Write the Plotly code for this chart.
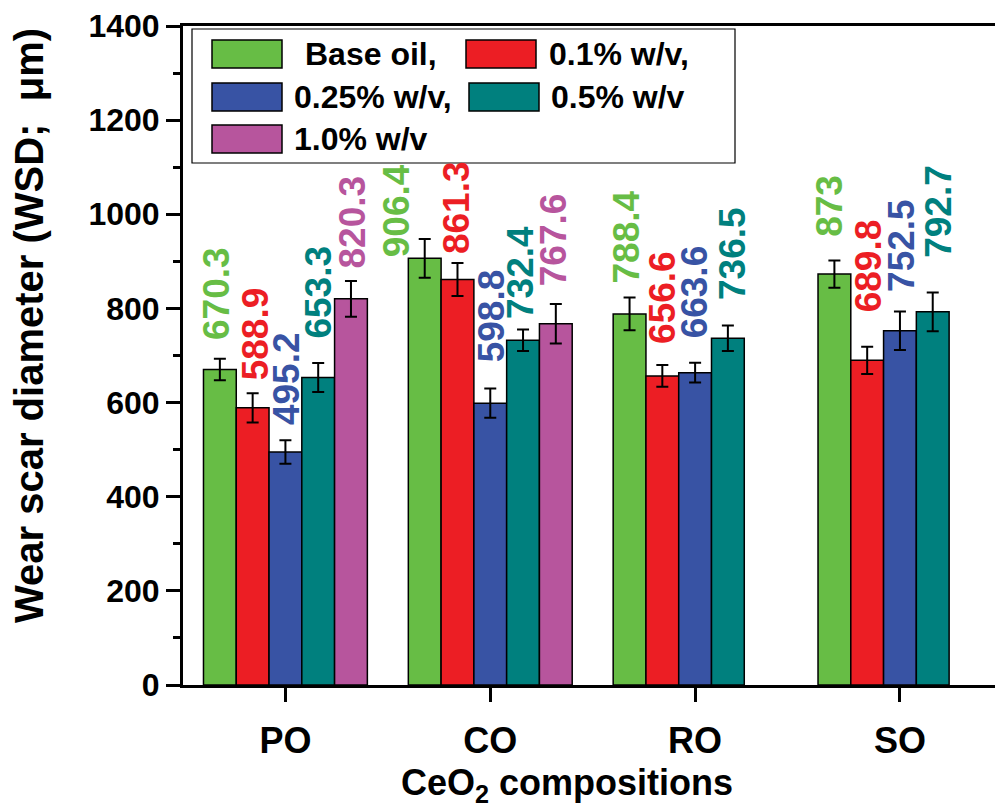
import plotly.graph_objects as go

# ---- data -------------------------------------------------------------
categories = ["PO", "CO", "RO", "SO"]
series_names = ["Base oil,", "0.1% w/v,", "0.25% w/v,", "0.5% w/v", "1.0% w/v"]

wsd_base_oil = [670.3, 906.4, 788.4, 873]
wsd_01 = [588.9, 861.3, 656.6, 689.8]
wsd_025 = [495.2, 598.8, 663.6, 752.5]
wsd_05 = [653.3, 732.4, 736.5, 792.7]
wsd_10 = [820.3, 767.6, None, None]

err_base_oil = [23, 41, 35, 29]
err_01 = [31, 35, 23, 29]
err_025 = [25, 31, 21, 41]
err_05 = [31, 23, 27, 41]
err_10 = [38, 42, None, None]

y_tick_values = [0, 200, 400, 600, 800, 1000, 1200, 1400]

# ---- styling ----------------------------------------------------------
colors = ["#67BD45", "#EC1E24", "#3853A4", "#00807E", "#B7559D"]
FONT = "Liberation Sans, Arial, sans-serif"

W, H = 995, 812
L, R, T, B = 183, 0, 26, 127
PW, PH = W - L - R, H - T - B


def px_x(px):
    return (px - L) / PW


def px_y(py):
    return (H - B - py) / PH


values = [wsd_base_oil, wsd_01, wsd_025, wsd_05, wsd_10]
errors = [err_base_oil, err_01, err_025, err_05, err_10]

# pixel lift of each value label above its error bar (series x category)
label_lift = [
    [17, -20, 12, 22],
    [11, 7, 19, 32],
    [13, 24, 22, 18],
    [22, 8, 24, 33],
    [11, 16, 0, 0],
]
label_xshift = [
    [-4, -28, -3, -5],
    [3, -1, 0, 1],
    [1, 1, -1, 2],
    [0, -2, 4, 5],
    [2, -2, 0, 0],
]

fig = go.Figure()

for name, col, vals, errs in zip(series_names, colors, values, errors):
    fig.add_trace(go.Bar(
        name=name,
        x=categories,
        y=vals,
        marker=dict(color=col, line=dict(color="black", width=1.5)),
        error_y=dict(type="data", array=errs, visible=True,
                     color="black", thickness=2, width=6),
        showlegend=False,
    ))

bar_slot = 0.8 / len(series_names)
annotations = []
for i, (col, vals, errs) in enumerate(zip(colors, values, errors)):
    for j, (v, e) in enumerate(zip(vals, errs)):
        if v is None:
            continue
        annotations.append(dict(
            x=j + (i - (len(series_names) - 1) / 2) * bar_slot,
            y=v + e,
            xref="x", yref="y",
            text=f"{v:g}",
            textangle=-90,
            showarrow=False,
            xanchor="center", yanchor="bottom",
            yshift=label_lift[i][j],
            xshift=label_xshift[i][j],
            font=dict(family=FONT, size=37, color=col, weight="bold"),
        ))

# legend: framed box with two columns of swatches
shapes = [dict(type="rect", xref="paper", yref="paper",
               x0=px_x(192), x1=px_x(735), y0=px_y(163), y1=px_y(29),
               line=dict(color="black", width=1.2), fillcolor="white",
               layer="above")]
legend_cells = [  # swatch left, swatch top, text left
    (212, 40, 303),
    (466, 40, 547),
    (212, 83, 292),
    (469, 83, 549),
    (212, 125, 292),
]
for (sx, sy, tx), name, col in zip(legend_cells, series_names, colors):
    shapes.append(dict(type="rect", xref="paper", yref="paper",
                       x0=px_x(sx), x1=px_x(sx + 70),
                       y0=px_y(sy + 28), y1=px_y(sy),
                       line=dict(color="black", width=1.5),
                       fillcolor=col, layer="above"))
    annotations.append(dict(
        x=px_x(tx), y=px_y(sy + 14), xref="paper", yref="paper",
        text=name, showarrow=False, xanchor="left", yanchor="middle",
        font=dict(family=FONT, size=32, color="black", weight="bold"),
    ))

# axis titles
annotations.append(dict(
    x=px_x(29), y=px_y(326), xref="paper", yref="paper",
    text="Wear scar diameter (WSD;  μm)", textangle=-90, showarrow=False,
    xanchor="center", yanchor="middle",
    font=dict(family=FONT, size=40, color="black", weight="bold"),
))
annotations.append(dict(
    x=px_x(567), y=px_y(785), xref="paper", yref="paper",
    text="CeO<sub>2</sub> compositions", showarrow=False,
    xanchor="center", yanchor="middle",
    font=dict(family=FONT, size=36, color="black", weight="bold"),
))

fig.update_layout(
    width=W, height=H,
    margin=dict(l=L, r=R, t=T, b=B, pad=0),
    paper_bgcolor="white", plot_bgcolor="white",
    barmode="group", bargap=0.2, bargroupgap=0,
    showlegend=False,
    annotations=annotations,
    shapes=shapes,
    xaxis=dict(
        type="category",
        range=[-0.5, 3.464],
        showline=True, linecolor="black", linewidth=3, mirror=True,
        ticks="outside", ticklen=14, tickwidth=3, tickcolor="black",
        showgrid=False, zeroline=False,
        ticklabelstandoff=8,
        tickfont=dict(family=FONT, size=36, color="black", weight="bold"),
    ),
    yaxis=dict(
        range=[0, 1400],
        tickvals=y_tick_values,
        showline=True, linecolor="black", linewidth=3, mirror=False,
        ticks="outside", ticklen=14, tickwidth=3, tickcolor="black",
        minor=dict(ticks="outside", ticklen=7, tickwidth=3,
                   tickcolor="black", dtick=100, showgrid=False),
        showgrid=False, zeroline=False,
        tickfont=dict(family=FONT, size=32, color="black", weight="bold"),
    ),
)

fig.write_html("out.html")
